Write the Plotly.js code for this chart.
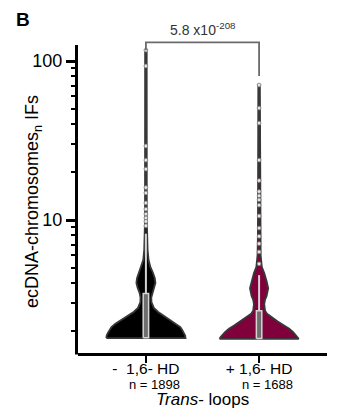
<!DOCTYPE html>
<html>
<head>
<meta charset="utf-8">
<script src="https://cdn.plot.ly/plotly-3.0.1.min.js"></script>
<style>html,body{margin:0;padding:0;background:#fff;}#chart{width:350px;height:415px;}</style>
</head>
<body>
<div id="chart"></div>
<script>
// ---- data ----
const categories = ['-\u00a0\u00a01,6- HD', '+ 1,6- HD'];
const categoryPos = [0, 1];
const sampleSizes = [1898, 1688];

// violin density profiles (value level -> relative density)
const leftLevels  = [1.81, 1.88, 1.95, 2.03, 2.12, 2.23, 2.35, 2.48, 2.64, 2.8, 3.05, 3.25, 3.48, 3.75, 4.02, 4.3, 4.64, 5.1, 5.6, 6.5, 7.5, 10, 117];
const leftDensity = [1.00, 0.99, 0.96, 0.92, 0.87, 0.77, 0.63, 0.47, 0.31, 0.20, 0.14, 0.136, 0.16, 0.21, 0.24, 0.225, 0.18, 0.11, 0.068, 0.043, 0.03, 0.023, 0.02];
const rightLevels  = [1.79, 1.85, 1.97, 2.07, 2.17, 2.3, 2.45, 2.57, 2.69, 2.96, 3.15, 3.33, 3.72, 4.12, 4.64, 5.06, 6, 8, 15, 70.6];
const rightDensity = [1.00, 0.96, 0.86, 0.76, 0.63, 0.47, 0.31, 0.20, 0.15, 0.13, 0.15, 0.19, 0.23, 0.19, 0.13, 0.07, 0.04, 0.03, 0.023, 0.02];

// individual high points
const leftPoints  = [117, 93, 29.2, 23.8, 20.9, 16.0, 14.8, 12.8, 11.7, 10.9, 10.3, 9.8, 9.2];
const rightPoints = [70.6, 50.6, 40.7, 23.8, 17.7, 15.1, 14.2, 13.4, 12.4, 10.6, 8.9, 7.9, 7.1, 6.3, 5.3];

// box statistics
const boxQ1     = [1.82, 1.80];
const boxQ3     = [3.45, 2.69];
const boxUpper  = [8.2, 4.5];

// significance bracket
const pValueText = '5.8 x10<sup>-208</sup>';
const bracketY = [117, 131, 131, 80.5];

// y-axis ticks
const majorTicks = [10, 100];
const majorLabels = ['10', '100'];
const minorTicks = [2,3,4,5,6,7,8,9,20,30,40,50,60,70,80,90];

// ---- styling ----
const FONT = 'Liberation Sans, Arial, Helvetica, sans-serif';
const HALF = 0.35;    // max violin half-width in x units
const BOXW = 0.024;   // box half-width in x units
const fills = ['#000000', '#80003c'];

function violinTrace(pos, levels, dens, fill) {
  const xs = [], ys = [];
  for (let i = 0; i < levels.length; i++) { xs.push(pos - dens[i] * HALF); ys.push(levels[i]); }
  for (let i = levels.length - 1; i >= 0; i--) { xs.push(pos + dens[i] * HALF); ys.push(levels[i]); }
  xs.push(xs[0]); ys.push(ys[0]);
  return {
    type: 'scatter', mode: 'lines', x: xs, y: ys, fill: 'toself', fillcolor: fill,
    line: {color: '#383838', width: 1.8, shape: 'linear'},
    hoverinfo: 'skip', showlegend: false
  };
}

function whiskerTrace(i) {
  const p = categoryPos[i];
  return {
    type: 'scatter', mode: 'lines', x: [p, p], y: [boxQ3[i], boxUpper[i]],
    line: {color: '#d4d4d4', width: 2}, showlegend: false, hoverinfo: 'skip'
  };
}

function boxTrace(i) {
  const p = categoryPos[i];
  return {
    type: 'scatter', mode: 'lines',
    x: [p - BOXW, p + BOXW, p + BOXW, p - BOXW, p - BOXW],
    y: [boxQ1[i], boxQ1[i], boxQ3[i], boxQ3[i], boxQ1[i]],
    fill: 'toself', fillcolor: '#6e6e6e', line: {color: '#d4d4d4', width: 1.5},
    showlegend: false, hoverinfo: 'skip'
  };
}

function pointsTrace(pos, vals) {
  return {
    type: 'scatter', mode: 'markers', x: vals.map(() => pos), y: vals,
    marker: {size: 3.8, color: '#e6e6e6', line: {color: '#7a7a7a', width: 0.8}},
    showlegend: false, hoverinfo: 'y', cliponaxis: false
  };
}

const traces = [
  violinTrace(categoryPos[0], leftLevels, leftDensity, fills[0]),
  violinTrace(categoryPos[1], rightLevels, rightDensity, fills[1]),
  whiskerTrace(0), whiskerTrace(1),
  boxTrace(0), boxTrace(1),
  pointsTrace(categoryPos[0], leftPoints),
  pointsTrace(categoryPos[1], rightPoints),
  {
    type: 'scatter', mode: 'lines', x: [categoryPos[0], categoryPos[0], categoryPos[1], categoryPos[1]], y: bracketY,
    line: {color: '#6b6b6b', width: 1.8}, showlegend: false, hoverinfo: 'skip'
  }
];

const annotations = [
  {xref: 'x', yref: 'paper', x: 0.5, y: 1, yanchor: 'bottom', yshift: 1, showarrow: false,
   text: pValueText, font: {family: FONT, size: 14, color: '#333'}},
  {xref: 'x', yref: 'paper', x: 0.5, y: 0, yanchor: 'middle', yshift: -46, showarrow: false,
   text: '<i>Trans</i>- loops', font: {family: FONT, size: 17, color: '#000'}},
  {xref: 'paper', yref: 'paper', x: 0, xshift: -44, y: 0.484, textangle: -90, showarrow: false,
   xanchor: 'center', yanchor: 'middle',
   text: 'ecDNA-chromosomes<sub>n</sub> IFs', font: {family: FONT, size: 18, color: '#000'}}
];
categoryPos.forEach((p, i) => annotations.push({
  xref: 'x', yref: 'paper', x: p, y: 0, xanchor: 'right', yanchor: 'middle', xshift: 36, yshift: -31,
  showarrow: false, text: 'n = ' + sampleSizes[i], font: {family: FONT, size: 13, color: '#000'}
}));

const layout = {
  width: 350, height: 415,
  margin: {l: 78, r: 23, t: 41, b: 62, pad: 0},
  paper_bgcolor: '#fff', plot_bgcolor: '#fff',
  font: {family: FONT, color: '#000'},
  title: {text: '<b>B</b>', x: 16/350, xanchor: 'left', xref: 'container', y: 1 - 19/415, yref: 'container', yanchor: 'middle',
          font: {family: FONT, size: 19, color: '#000'}},
  showlegend: false,
  xaxis: {
    range: [-0.6, 1.6], tickmode: 'array', tickvals: categoryPos, ticktext: categories,
    showline: true, linecolor: '#000', linewidth: 3, ticks: 'outside', ticklen: 7, tickwidth: 2.5,
    tickcolor: '#000', showgrid: false, zeroline: false, ticklabelstandoff: -8,
    tickfont: {family: FONT, size: 15.5, color: '#000'}
  },
  yaxis: {
    type: 'log', range: [0.1635, 2.1258], tickmode: 'array', tickvals: majorTicks, ticktext: majorLabels,
    showline: false, ticks: 'outside', ticklen: 11, tickwidth: 3, tickcolor: '#000',
    showgrid: false, zeroline: false, tickfont: {family: FONT, size: 18, color: '#000'},
    minor: {tickmode: 'array', tickvals: minorTicks, ticks: 'outside', ticklen: 6, tickwidth: 2, tickcolor: '#000', showgrid: false}
  },
  shapes: [
    {type: 'line', xref: 'paper', yref: 'paper', xsizemode: 'pixel', xanchor: 0, x0: -1.5, x1: -1.5,
     y0: -0.005, y1: (353 - 45) / 312, line: {color: '#000', width: 3}}
  ],
  annotations: annotations
};

Plotly.newPlot('chart', traces, layout, {displayModeBar: false, staticPlot: true});
</script>
</body>
</html>
